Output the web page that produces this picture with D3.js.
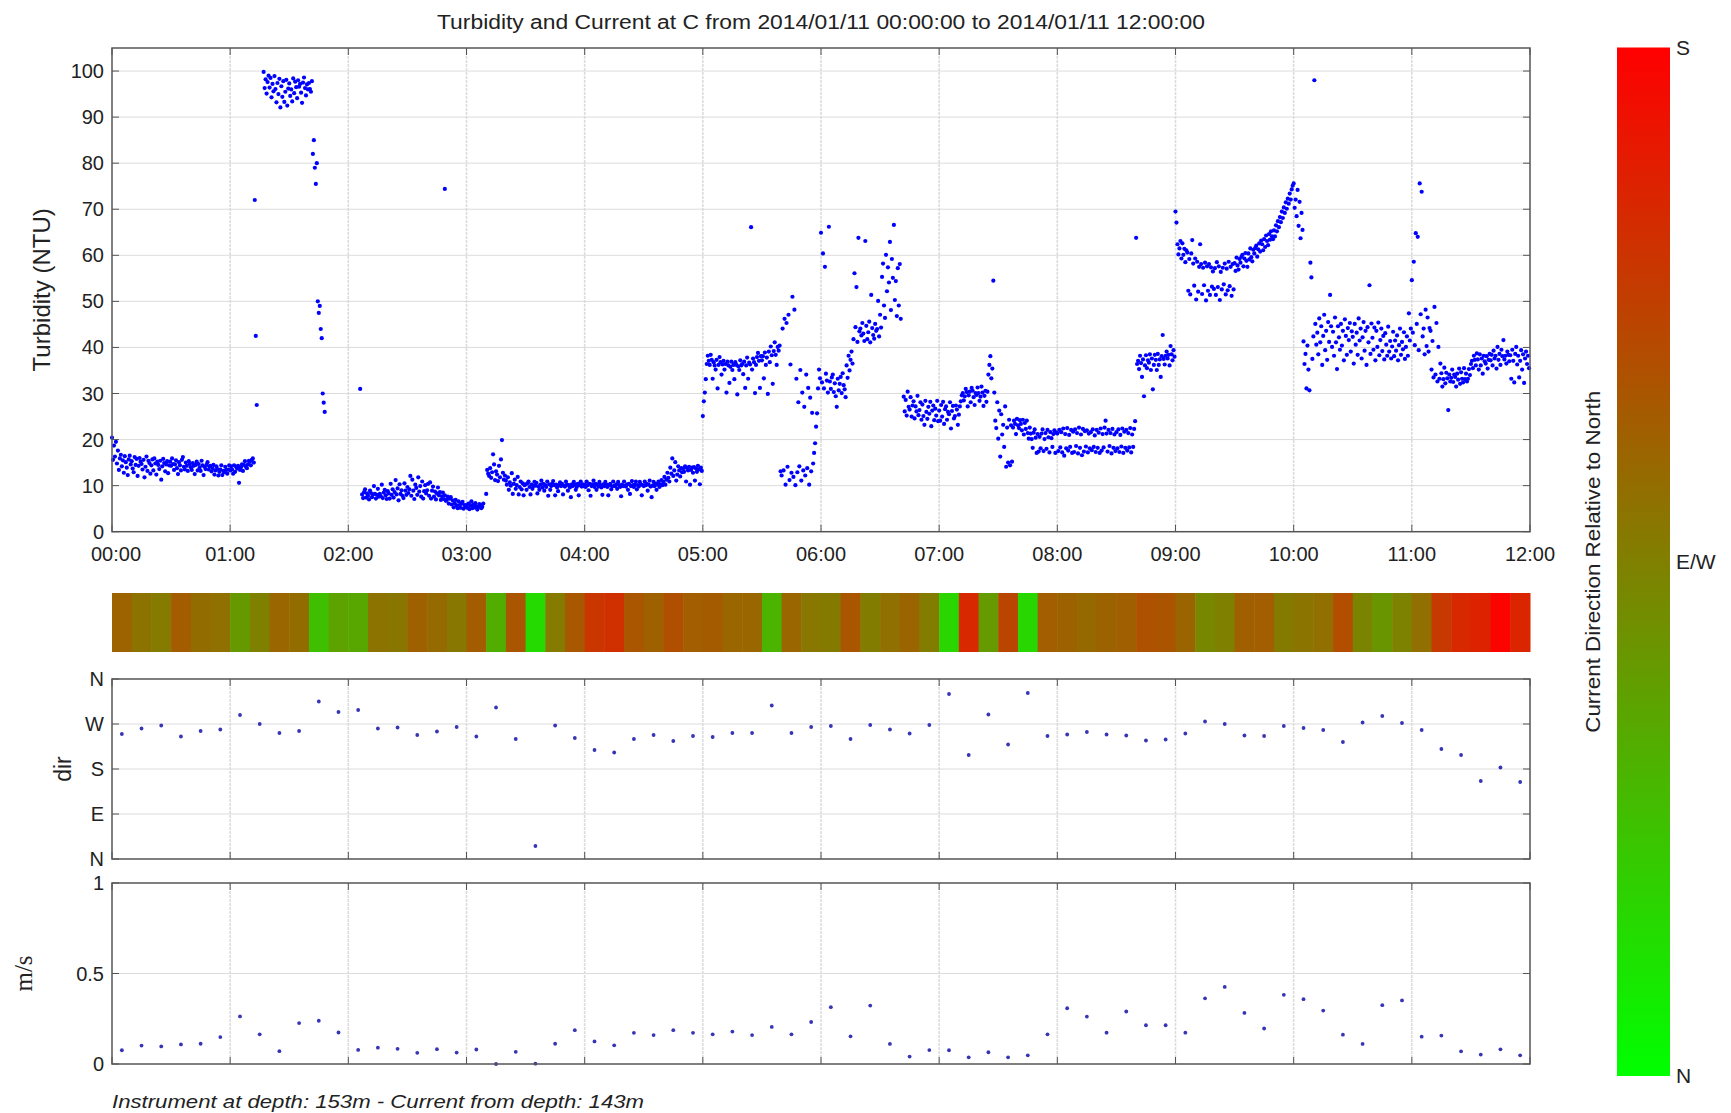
<!DOCTYPE html>
<html><head><meta charset="utf-8">
<script src="https://cdn.jsdelivr.net/npm/d3@7/dist/d3.min.js"></script>
<style>
body{margin:0;background:#fff}
svg{display:block}
text{font-family:"Liberation Sans",Arial,sans-serif;fill:#222}
</style>
</head><body>
<svg id="chart" width="1731" height="1113"></svg>
<script>
// ---------------- DATA ----------------
const titleText = "Turbidity and Current at C from 2014/01/11 00:00:00 to 2014/01/11 12:00:00";
const footerText = "Instrument at depth: 153m - Current from depth: 143m";
const hourLabels = ["00:00","01:00","02:00","03:00","04:00","05:00","06:00","07:00","08:00","09:00","10:00","11:00","12:00"];
const turbTicks = [0,10,20,30,40,50,60,70,80,90,100];
const dirTicks = [0,90,180,270,360];
const dirTickLabels = ["N","E","S","W","N"];
const speedTicks = [0,0.5,1];
const speedTickLabels = ["0","0.5","1"];
const colorbarLabels = ["S","E/W","N"];

// Turbidity (NTU), two readings per minute, one array per hour
const h00 = [20.4,15.6,18.7,16.3,19.5,14.8,17.6,13.4,15.9,16.7,14.2,15.5,12.8,16.4,15.1,13.9,12.3,15.7,16.5,14.6,
 15.3,13.7,12.9,16.2,14.5,15.8,12.1,14.3,16.0,15.2,14.7,13.5,15.6,11.8,14.1,16.3,13.2,15.4,14.9,12.6,
 14.4,15.7,13.3,15.9,14.8,12.4,15.2,14.5,13.6,15.4,11.3,14.2,15.8,14.9,13.1,14.6,15.3,12.7,14.4,15.2,
 14.3,15.9,14.7,13.4,14.6,15.5,13.8,12.5,15.1,14.4,13.3,15.6,16.2,14.1,13.5,15.0,14.3,13.2,15.3,14.7,
 14.0,13.4,14.9,14.3,12.5,14.5,15.2,13.3,14.7,13.9,13.2,15.4,14.4,12.3,14.1,13.6,14.5,15.1,13.5,14.2,
 14.3,13.1,13.7,14.5,12.4,13.3,14.2,13.6,12.2,13.0,13.5,14.4,12.3,13.2,12.9,14.1,13.4,12.6,13.5,14.4];
const h01 = [13.3,14.2,13.5,12.6,14.4,13.0,14.1,13.7,14.3,10.6,13.4,14.0,14.6,13.2,14.5,15.3,14.1,13.8,14.6,15.4,
 15.2,14.4,15.6,15.9,15.0,72.0,42.5,27.5,null,null,null,null,null,null,99.8,96.3,98.2,95.1,97.6,99.0,
 96.4,98.5,94.3,97.2,95.6,98.9,96.1,93.2,97.4,95.0,98.3,92.1,96.7,94.4,97.8,93.3,95.5,98.1,92.5,96.2,
 97.3,94.6,96.0,93.4,98.4,95.2,97.7,96.5,94.1,98.0,96.6,97.2,95.3,93.1,97.5,98.6,96.3,94.7,97.1,96.0,
 97.4,96.1,95.5,97.8,82.0,85.0,79.0,75.5,80.0,50.0,47.5,49.0,44.0,42.0,30.0,28.0,26.0,null,null,null,
 null,null,null,null,null,null,null,null,null,null,null,null,null,null,null,null,null,null,null,null];
const h02 = [null,null,null,null,null,null,null,null,null,null,null,null,31.0,null,8.1,7.3,8.6,9.2,7.4,8.3,
 7.8,7.0,8.9,8.4,7.5,8.1,9.9,8.2,7.2,8.0,9.3,7.6,8.2,7.7,10.2,7.3,8.5,9.1,7.9,7.1,
 8.8,8.3,7.2,10.4,8.0,9.2,7.4,8.6,11.2,8.1,9.4,6.8,10.3,8.2,9.0,7.8,7.3,10.5,8.9,8.0,
 9.7,8.4,9.2,12.1,7.8,11.3,8.9,7.1,10.2,9.5,8.0,11.8,8.7,9.9,7.6,10.9,7.2,8.8,10.1,8.3,
 9.0,10.4,7.8,10.7,7.2,8.9,9.8,7.6,8.7,7.0,8.3,9.6,7.9,8.6,6.9,7.7,8.5,7.1,7.9,6.7,
 6.9,7.6,6.1,7.2,7.5,5.9,6.8,5.3,6.2,6.9,5.7,5.1,6.6,5.8,5.2,6.1,6.5,5.0,5.8,5.4];
const h03 = [5.8,5.2,6.1,4.9,5.7,6.6,5.1,5.9,5.3,6.2,5.5,4.8,5.4,6.0,5.7,5.1,5.4,6.1,null,null,
 8.2,13.4,12.6,12.1,13.8,11.7,12.9,16.8,14.6,11.2,13.1,12.4,11.0,14.3,11.8,15.7,19.9,12.8,11.3,12.2,
 11.1,10.2,11.8,9.1,10.7,10.0,12.7,8.2,10.4,11.3,9.3,10.1,11.9,8.1,9.7,10.9,9.2,10.5,7.9,10.1,
 10.3,9.1,10.5,10.9,9.7,8.1,10.2,9.3,9.9,10.8,10.0,10.6,8.3,9.8,9.1,10.2,11.1,9.6,10.4,8.9,
 10.1,9.7,10.9,7.8,10.3,9.1,9.9,10.4,11.0,10.1,7.9,10.2,9.6,8.8,10.1,10.7,9.9,10.4,8.1,10.0,
 9.8,10.9,10.2,8.9,10.1,9.6,7.5,10.3,9.9,10.8,10.2,9.1,9.7,10.4,7.9,10.1,10.9,9.8,10.3,9.9];
const h04 = [10.2,9.7,10.9,10.1,9.0,10.4,7.8,9.9,10.3,11.1,9.7,10.4,9.1,10.2,9.8,10.8,10.1,9.6,8.0,10.3,
 9.9,10.8,10.2,9.7,7.9,10.1,10.4,9.2,9.8,10.9,10.0,9.9,10.3,9.3,10.8,10.1,9.7,7.7,10.2,9.9,
 10.9,10.0,9.8,10.3,9.1,10.4,8.2,9.9,11.0,10.1,9.7,10.2,10.9,9.2,10.1,9.8,10.8,10.3,7.9,10.1,
 9.9,10.9,10.1,10.4,8.9,10.2,11.1,9.8,7.5,10.0,10.8,9.9,10.4,9.1,10.2,10.9,9.7,10.3,11.2,10.1,
 10.8,11.9,10.2,11.3,12.8,11.7,10.9,13.9,12.6,15.9,12.1,13.3,15.1,11.1,12.4,14.2,13.3,12.0,13.8,12.9,
 13.7,13.0,14.2,10.9,13.8,13.3,14.1,10.2,13.4,13.9,12.8,14.0,11.1,13.7,13.0,14.3,13.5,10.3,13.9,13.2];
const h05 = [25.1,28.3,30.2,33.1,36.4,38.2,37.1,36.2,38.4,37.3,33.2,36.8,36.1,35.2,37.3,31.1,36.2,37.9,36.8,34.1,
 36.3,37.1,35.2,36.4,30.2,36.9,36.1,32.3,35.8,36.9,35.1,36.2,33.1,36.8,36.2,29.8,35.9,35.1,37.2,36.1,
 36.4,34.2,36.9,31.2,36.1,37.8,33.2,36.7,36.3,66.1,35.2,37.6,36.8,30.1,36.2,37.9,38.8,37.1,31.2,38.1,
 37.2,38.1,33.3,38.9,36.2,37.8,29.9,39.1,36.8,40.2,38.3,32.1,39.2,41.1,38.4,36.2,40.1,39.3,40.4,13.1,
 12.2,44.1,13.3,46.2,10.2,45.3,14.1,47.1,11.2,36.3,12.8,51.0,11.9,48.2,10.1,33.2,12.9,28.1,14.2,35.1,
 11.1,30.2,13.3,27.1,12.2,34.1,13.8,31.2,10.2,29.1,13.1,25.8,14.8,17.1,19.2,22.8,25.7,31.1,35.2,33.3];
const h06 = [64.9,32.4,60.4,31.1,57.5,34.3,32.8,30.2,66.2,32.6,31.0,33.5,34.1,30.3,32.2,29.4,27.1,33.2,30.7,32.1,
 33.6,30.1,34.4,31.8,30.9,29.2,36.1,33.4,38.2,35.0,37.3,39.1,36.5,41.8,56.1,44.4,53.1,41.2,63.8,43.5,
 44.1,42.6,45.3,43.0,41.4,63.1,44.7,41.8,43.3,45.6,41.1,51.4,44.2,42.7,41.9,45.1,43.6,44.0,50.1,42.4,
 47.1,44.3,55.3,58.2,49.1,46.4,60.1,52.2,57.4,54.1,62.9,48.1,59.2,55.1,66.6,50.3,54.4,46.8,57.2,49.1,
 58.1,46.2,null,null,29.3,26.1,28.6,25.2,30.4,27.1,26.5,29.2,25.0,27.4,28.3,24.6,27.2,26.1,29.5,25.3,
 26.4,28.1,24.3,27.6,25.1,23.2,28.4,26.0,24.5,27.1,25.6,28.2,22.9,26.3,27.4,24.2,26.7,25.2,28.4,24.0];
const h07 = [26.3,24.1,27.5,25.0,28.2,23.4,26.6,27.2,24.3,26.0,25.5,28.1,22.4,26.2,27.3,24.6,25.1,27.4,26.5,23.2,
 25.4,27.2,28.3,29.6,30.1,28.5,29.4,31.0,30.3,27.2,29.6,30.4,28.1,31.2,30.6,29.2,27.5,30.1,29.7,31.3,
 30.1,28.4,29.3,31.5,30.2,27.3,29.5,30.6,28.2,30.4,34.1,36.2,38.1,33.3,35.4,54.5,30.2,24.1,22.5,28.1,
 20.2,26.3,16.3,25.5,21.1,23.2,18.4,27.2,14.1,22.6,15.0,24.3,14.4,23.1,15.2,22.6,24.1,23.4,21.2,24.5,
 23.1,22.5,24.2,23.4,22.0,24.3,21.1,23.6,22.3,24.1,21.4,20.2,22.6,21.3,20.1,18.2,21.5,22.2,20.4,17.1,
 21.2,17.4,20.6,18.1,21.3,22.2,17.5,20.1,21.4,18.0,22.1,20.5,17.2,21.6,20.3,18.4,21.2,22.0,17.1,21.5];
const h08 = [21.3,17.5,22.1,18.3,21.6,17.2,22.4,16.5,21.2,18.1,22.5,17.6,21.0,18.4,22.1,17.1,21.7,17.3,22.2,18.6,
 21.4,17.0,22.6,18.2,21.1,16.6,22.3,17.4,21.8,18.5,22.0,17.2,21.3,18.1,21.6,17.7,22.2,18.4,20.9,17.3,
 22.1,18.2,21.5,17.1,22.4,17.6,21.2,18.3,22.6,24.1,21.3,17.4,22.1,18.6,21.4,17.0,22.3,18.2,21.1,17.5,
 21.6,18.1,22.2,17.3,21.0,18.5,22.4,17.1,21.7,18.2,22.1,17.6,21.4,18.3,22.5,17.2,21.1,18.4,22.3,24.0,
 63.8,36.4,37.1,35.3,38.2,36.6,33.6,37.4,29.4,36.1,38.3,35.5,37.2,36.7,38.5,35.1,37.6,30.9,36.2,38.4,
 37.3,35.1,38.6,36.2,37.4,33.6,38.1,42.7,37.5,36.3,38.2,39.1,37.6,38.4,36.1,40.3,38.5,37.2,39.4,38.0];
const h09 = [69.5,67.1,62.4,60.2,61.5,63.1,59.3,62.6,60.1,61.4,58.5,61.1,60.6,52.3,59.2,51.5,60.4,63.3,58.2,53.4,
 59.3,50.4,58.6,52.1,57.5,62.4,58.1,51.6,57.3,53.5,58.4,50.2,57.6,52.3,58.1,51.4,57.4,53.2,56.5,52.7,
 57.2,51.4,58.5,53.1,57.6,50.3,56.4,52.6,57.3,53.7,58.2,51.5,57.1,52.4,58.6,53.3,57.5,51.2,58.1,52.6,
 58.3,56.6,59.5,57.8,56.9,59.2,58.4,59.7,60.1,57.6,59.3,60.5,58.8,57.5,60.4,59.1,61.5,59.6,58.7,61.2,
 60.4,61.6,62.1,59.7,61.3,62.6,60.8,63.2,62.4,61.1,63.5,61.8,64.3,63.1,62.2,64.6,63.4,65.2,64.1,63.5,
 65.4,64.1,66.5,65.2,67.4,66.1,68.3,67.2,69.5,68.1,70.4,69.2,71.5,70.1,72.3,71.2,73.4,72.1,74.3,75.1];
const h10 = [75.6,70.3,72.1,68.5,74.2,66.4,71.6,63.7,69.2,65.5,41.3,36.4,38.6,31.1,40.4,35.2,30.7,58.4,55.2,37.5,
 42.4,98.0,45.1,40.6,43.2,38.5,46.3,41.1,44.6,36.2,42.5,47.1,39.4,43.6,37.3,45.5,41.2,51.4,44.6,40.1,
 43.4,38.2,46.5,41.1,35.3,44.6,42.2,39.5,45.1,40.4,43.6,37.2,46.1,42.5,38.4,44.2,41.6,45.3,39.1,43.5,
 42.3,36.5,45.1,40.6,43.2,38.4,46.3,41.5,44.1,37.6,42.2,45.5,39.3,43.6,36.2,44.4,41.1,53.5,38.6,45.2,
 42.1,39.5,44.3,37.2,43.6,40.1,45.4,38.3,41.6,44.1,39.2,42.5,37.4,43.1,40.6,38.2,44.5,39.1,41.4,37.6,
 40.2,43.4,38.1,41.5,39.3,42.6,37.2,40.5,44.1,38.4,41.2,39.6,43.3,37.5,40.1,42.4,38.2,47.4,41.5,44.1];
const h11 = [54.6,43.2,58.6,40.5,64.8,45.1,64.0,39.4,75.6,47.2,73.8,42.4,44.1,38.5,48.2,40.3,46.5,39.1,44.2,43.6,
 35.2,41.4,33.5,48.8,34.1,45.3,32.6,40.1,33.2,36.5,34.4,31.5,33.1,35.6,32.2,34.5,33.3,26.4,34.1,32.6,
 33.4,35.2,32.5,34.1,33.6,31.5,34.3,33.0,35.4,32.1,34.6,33.2,32.4,35.5,33.1,34.3,32.6,33.2,35.3,34.0,
 36.4,37.1,35.5,38.2,37.3,36.1,38.7,37.4,35.2,38.5,36.1,37.6,34.3,38.2,37.0,36.5,38.1,35.4,37.3,38.6,
 37.2,38.4,36.1,39.3,37.6,38.2,35.4,40.1,37.3,38.6,36.2,39.5,38.1,41.6,37.4,38.2,36.5,39.1,38.4,37.0,
 38.3,33.2,39.5,37.1,32.4,38.6,40.1,36.3,38.2,33.5,37.1,39.4,35.2,38.5,32.3,37.6,39.1,36.4,38.2,35.5];
const turbHours = [h00,h01,h02,h03,h04,h05,h06,h07,h08,h09,h10,h11];
const turbOutliers = [[169, 74.4]]; // [minute, NTU]

// Current, one value every 10 minutes (centred at :05, :15, ...)
const dirDeg = [250,261,267,245,256,259,288,270,252,256,315,294,298,261,263,248,255,264,
 245,303,240,26,267,242,218,213,240,248,236,246,244,252,252,307,252,264,
 266,240,268,259,251,268,330,208,289,229,332,246,249,254,249,247,237,239,
 251,275,270,247,246,266,262,258,234,273,286,272,258,220,208,156,183,154];
const speedMs = [0.076,0.102,0.097,0.108,0.112,0.149,0.263,0.164,0.071,0.226,0.239,0.174,
 0.078,0.090,0.084,0.062,0.082,0.063,0.080,0.0,0.067,0.002,0.112,0.187,
 0.125,0.103,0.172,0.160,0.187,0.172,0.164,0.179,0.160,0.205,0.164,0.232,
 0.314,0.153,0.323,0.111,0.041,0.077,0.076,0.037,0.065,0.037,0.048,0.164,
 0.308,0.262,0.173,0.290,0.214,0.214,0.173,0.363,0.426,0.282,0.196,0.382,
 0.358,0.295,0.162,0.111,0.325,0.351,0.151,0.157,0.070,0.052,0.081,0.048];

// ---------------- LAYOUT ----------------
const svg = d3.select("#chart");
const L = 112, R = 1530;
const top1 = 48, bot1 = 531.7;
const bandTop = 593, bandBot = 652;
const top2 = 679, bot2 = 859;
const top3 = 883, bot3 = 1064;
const axisCol = "#555", gridCol = "#dcdcdc";
const tickFont = "20px";

const x = d3.scaleLinear().domain([0, 720]).range([L, R]);
const yT = d3.scaleLinear().domain([0, 105]).range([bot1, top1]);
const yD = d3.scaleLinear().domain([0, 360]).range([bot2, top2]);
const yS = d3.scaleLinear().domain([0, 1]).range([bot3, top3]);
const dirColor = d3.scaleLinear().domain([0, 180]).range(["#00ff00", "#ff0000"]).interpolate(d3.interpolateRgb);
const hourMins = hourLabels.map((d, i) => i * 60);

function panel(yScale, ticks, labels, t, b) {
  const g = svg.append("g");
  g.selectAll(".hg").data(ticks.filter(v => yScale(v) > t + 1 && yScale(v) < b - 1)).enter()
    .append("line").attr("x1", L).attr("x2", R)
    .attr("y1", d => yScale(d)).attr("y2", d => yScale(d))
    .attr("stroke", gridCol).attr("stroke-width", 1);
  g.selectAll(".vg").data(hourMins.slice(1, -1)).enter()
    .append("line").attr("x1", d => x(d)).attr("x2", d => x(d))
    .attr("y1", t).attr("y2", b)
    .attr("stroke", gridCol).attr("stroke-width", 1.6).attr("stroke-dasharray", "3,1");
  const tl = 7;
  ticks.forEach(v => {
    const yy = yScale(v);
    g.append("line").attr("x1", L).attr("x2", L + tl).attr("y1", yy).attr("y2", yy).attr("stroke", axisCol);
    g.append("line").attr("x1", R - tl).attr("x2", R).attr("y1", yy).attr("y2", yy).attr("stroke", axisCol);
  });
  hourMins.forEach(m => {
    g.append("line").attr("x1", x(m)).attr("x2", x(m)).attr("y1", b).attr("y2", b - tl).attr("stroke", axisCol);
    g.append("line").attr("x1", x(m)).attr("x2", x(m)).attr("y1", t).attr("y2", t + tl).attr("stroke", axisCol);
  });
  g.selectAll(".yl").data(ticks).enter().append("text")
    .attr("x", L - 8).attr("y", d => yScale(d)).attr("dy", "0.35em")
    .attr("text-anchor", "end").style("font-size", tickFont)
    .text((d, i) => labels[i]);
  return g;
}

// Panel 1: turbidity
panel(yT, turbTicks, turbTicks.map(String), top1, bot1);
const turbPts = [];
turbHours.forEach((arr, h) => arr.forEach((v, i) => { if (v !== null) turbPts.push([h * 60 + i * 0.5, v]); }));
turbOutliers.forEach(p => turbPts.push(p));
svg.append("g").selectAll("circle").data(turbPts).enter().append("circle")
  .attr("cx", d => x(d[0])).attr("cy", d => yT(d[1])).attr("r", 2.1).attr("fill", "#0000ff");
svg.append("rect").attr("x", L).attr("y", top1).attr("width", R - L).attr("height", bot1 - top1)
  .attr("fill", "none").attr("stroke", axisCol).attr("stroke-width", 1.5);
svg.append("g").selectAll("text").data(hourLabels).enter().append("text")
  .attr("x", (d, i) => x(hourMins[i]) + (i === 0 ? 4 : 0)).attr("y", bot1 + 29)
  .attr("text-anchor", "middle").style("font-size", tickFont).text(d => d);

// Direction colour band
svg.append("g").selectAll("rect").data(dirDeg).enter().append("rect")
  .attr("x", (d, i) => x(i * 10)).attr("width", (d, i) => x(i * 10 + 10) - x(i * 10) + 0.5)
  .attr("y", bandTop).attr("height", bandBot - bandTop)
  .attr("fill", d => dirColor(Math.min(d, 360 - d)));

// Panel 2: direction
panel(yD, dirTicks, dirTickLabels, top2, bot2);
svg.append("g").selectAll("circle").data(dirDeg).enter().append("circle")
  .attr("cx", (d, i) => x(i * 10 + 5)).attr("cy", d => yD(d)).attr("r", 1.9).attr("fill", "#3535b5");
svg.append("rect").attr("x", L).attr("y", top2).attr("width", R - L).attr("height", bot2 - top2)
  .attr("fill", "none").attr("stroke", axisCol).attr("stroke-width", 1.5);

// Panel 3: speed
panel(yS, speedTicks, speedTickLabels, top3, bot3);
svg.append("g").selectAll("circle").data(speedMs).enter().append("circle")
  .attr("cx", (d, i) => x(i * 10 + 5)).attr("cy", d => yS(d)).attr("r", 1.9).attr("fill", "#3535b5");
svg.append("rect").attr("x", L).attr("y", top3).attr("width", R - L).attr("height", bot3 - top3)
  .attr("fill", "none").attr("stroke", axisCol).attr("stroke-width", 1.5);

// Axis titles
svg.append("text").attr("transform", "translate(50," + ((top1 + bot1) / 2) + ") rotate(-90)")
  .attr("text-anchor", "middle").style("font-size", "24px").text("Turbidity (NTU)");
svg.append("text").attr("transform", "translate(71," + ((top2 + bot2) / 2) + ") rotate(-90)")
  .attr("text-anchor", "middle").style("font-size", "23px").text("dir");
svg.append("text").attr("transform", "translate(32," + ((top3 + bot3) / 2) + ") rotate(-90)")
  .attr("text-anchor", "middle").style("font-family", "'Liberation Serif','DejaVu Serif',serif")
  .style("font-size", "25px").text("m/s");

// Title & footer
svg.append("text").attr("x", (L + R) / 2).attr("y", 29).attr("text-anchor", "middle")
  .attr("textLength", 768).attr("lengthAdjust", "spacingAndGlyphs")
  .style("font-size", "20px").text(titleText);
svg.append("text").attr("x", L).attr("y", 1108).style("font-style", "italic")
  .attr("textLength", 532).attr("lengthAdjust", "spacingAndGlyphs")
  .style("font-size", "19px").text(footerText);

// Colour bar
const cbX = 1617, cbW = 53, cbT = 47.5, cbB = 1076;
const grad = svg.append("defs").append("linearGradient").attr("id", "cbg")
  .attr("x1", 0).attr("x2", 0).attr("y1", 0).attr("y2", 1);
[0, 0.5, 1].forEach(o => grad.append("stop").attr("offset", o).attr("stop-color", dirColor(180 - o * 180)));
svg.append("rect").attr("x", cbX).attr("y", cbT).attr("width", cbW).attr("height", cbB - cbT).attr("fill", "url(#cbg)");
const cbPos = [cbT, (cbT + cbB) / 2, cbB];
svg.append("g").selectAll("text").data(colorbarLabels).enter().append("text")
  .attr("x", cbX + cbW + 6).attr("y", (d, i) => cbPos[i]).attr("dy", "0.35em")
  .style("font-size", "21px").text(d => d);
svg.append("text").attr("transform", "translate(1600," + ((cbT + cbB) / 2) + ") rotate(-90)")
  .attr("text-anchor", "middle").attr("textLength", 342).attr("lengthAdjust", "spacingAndGlyphs")
  .style("font-size", "21px").text("Current Direction Relative to North");
</script>
</body></html>
